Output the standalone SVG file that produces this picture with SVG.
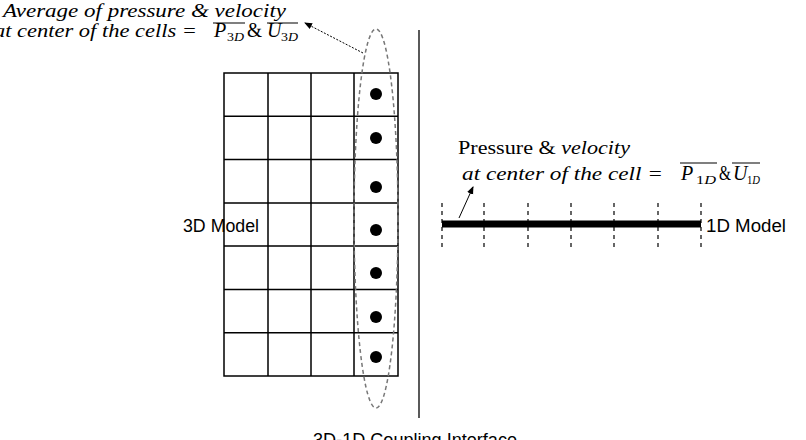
<svg xmlns="http://www.w3.org/2000/svg" width="806" height="440" viewBox="0 0 806 440">
<style>
.grid{stroke:#000;stroke-width:1.5;fill:none}
.dot{fill:#000}
.ell{fill:none;stroke:#777;stroke-width:1.5;stroke-dasharray:4 3}
.tick{stroke:#000;stroke-width:1.2;stroke-dasharray:4 4}
.sans{font-family:"Liberation Sans","Open Sans",sans-serif;font-size:18px;fill:#000}
.math{font-family:"Liberation Serif","DejaVu Serif",serif;font-style:italic;font-size:20px;fill:#000}
.line{font-size:19px}
.sub{font-family:"Liberation Serif","DejaVu Serif",serif;font-size:13px;fill:#000}
.up{font-style:normal}
.ov{stroke:#000;stroke-width:1.2}
.conn{stroke:#000;stroke-width:1;fill:none}
</style>
<defs>
<marker id="ah" markerWidth="8" markerHeight="8" refX="7" refY="4" orient="auto" markerUnits="userSpaceOnUse">
<path d="M0,0.8 L8,4 L0,7.2 Z" fill="#000"/>
</marker>
</defs>
<rect width="806" height="440" fill="#fff"/>

<g id="model3d">
<rect class="grid" x="224" y="73" width="174" height="303"/>
<path class="grid" d="M268,73V376M311,73V376M354,73V376M224,116.3H398M224,159.6H398M224,202.9H398M224,246.1H398M224,289.4H398M224,332.7H398"/>
<text class="sans" x="183" y="232" textLength="76" lengthAdjust="spacingAndGlyphs">3D Model</text>
</g>

<g id="cell-centers">
<circle class="dot" cx="376" cy="94" r="6"/>
<circle class="dot" cx="376" cy="138" r="6"/>
<circle class="dot" cx="376" cy="187" r="6"/>
<circle class="dot" cx="376" cy="230" r="6"/>
<circle class="dot" cx="376" cy="273" r="6"/>
<circle class="dot" cx="376" cy="317" r="6"/>
<circle class="dot" cx="376" cy="357" r="6"/>
</g>

<g id="interface-ellipse">
<ellipse class="ell" cx="376" cy="218.5" rx="22" ry="189.5"/>
</g>

<g id="coupling-interface">
<line x1="419" y1="30" x2="419" y2="418" stroke="#000" stroke-width="1.3"/>
<text class="sans" x="313" y="446" textLength="204" lengthAdjust="spacingAndGlyphs">3D-1D Coupling Interface</text>
</g>

<g id="model1d">
<line x1="442" y1="224" x2="701" y2="224" stroke="#000" stroke-width="7"/>
<path class="tick" d="M442,203V247M484,203V247M528,203V247M571,203V247M614,203V247M658,203V247M701,203V247"/>
<text class="sans" x="706" y="232" textLength="80" lengthAdjust="spacingAndGlyphs">1D Model</text>
</g>

<g id="label3d">
<text class="math line" x="3" y="17" textLength="283" lengthAdjust="spacingAndGlyphs">Average of pressure &amp; velocity</text>
<text class="math line" x="-6" y="37" textLength="203" lengthAdjust="spacingAndGlyphs">at center of the cells =</text>
<text class="math" x="214" y="37">P</text>
<text class="sub" x="227" y="41" textLength="17" lengthAdjust="spacingAndGlyphs">3<tspan font-style="italic">D</tspan></text>
<text class="math up" x="247" y="37" textLength="15" lengthAdjust="spacingAndGlyphs">&amp;</text>
<text class="math" x="267" y="37">U</text>
<text class="sub" x="281" y="41" textLength="17" lengthAdjust="spacingAndGlyphs">3<tspan font-style="italic">D</tspan></text>
<path class="ov" d="M213,23H245M267,23H298"/>
</g>

<g id="label1d">
<text class="math line" x="458" y="154" textLength="172" lengthAdjust="spacingAndGlyphs"><tspan class="up">Pressure &amp; </tspan>velocity</text>
<text class="math line" x="462" y="180" textLength="201" lengthAdjust="spacingAndGlyphs">at center of the cell =</text>
<text class="math" x="681" y="180">P</text>
<text class="sub" x="696" y="184" textLength="20" lengthAdjust="spacingAndGlyphs">1<tspan font-style="italic">D</tspan></text>
<text class="math up" x="719" y="180" textLength="12" lengthAdjust="spacingAndGlyphs">&amp;</text>
<text class="math" x="733" y="180">U</text>
<text class="sub" x="747" y="184" textLength="13" lengthAdjust="spacingAndGlyphs">1<tspan font-style="italic">D</tspan></text>
<path class="ov" d="M680,163H717M732,163H760"/>
</g>

<g id="connectors">
<line class="conn" x1="363" y1="53" x2="305" y2="23" stroke-dasharray="2 1.5" marker-end="url(#ah)"/>
<line class="conn" x1="459" y1="218" x2="473" y2="187" marker-end="url(#ah)"/>
</g>
</svg>
